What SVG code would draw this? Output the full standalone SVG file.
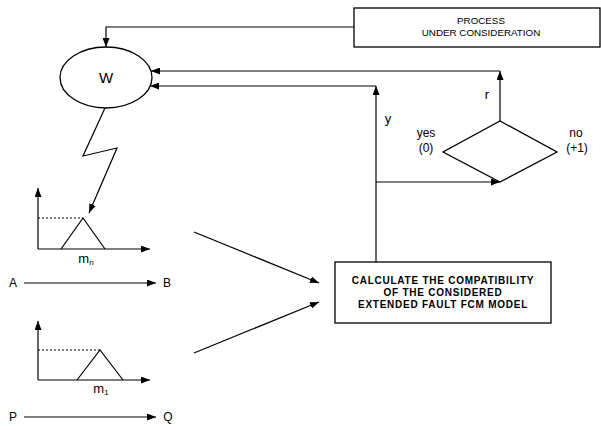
<svg xmlns="http://www.w3.org/2000/svg" width="601" height="430" viewBox="0 0 601 430">
<defs>
<marker id="ah" markerWidth="9" markerHeight="7" refX="9" refY="3.5" orient="auto" markerUnits="userSpaceOnUse">
<path d="M0,0 L9,3.5 L0,7 Z" fill="#000"/>
</marker>
<style>
.ln{fill:none;stroke:#000;stroke-width:1.2}
.bx{fill:#fff;stroke:#000;stroke-width:1.3}
.t{font-family:"Liberation Sans",Arial,sans-serif;fill:#000}
.dot{fill:none;stroke:#000;stroke-width:1;stroke-dasharray:2,2}
.bt{font-size:10px;font-weight:bold;letter-spacing:0.75px}
</style>
</defs>
<rect width="601" height="430" fill="#fff"/>

<g id="process">
<rect class="bx" x="354" y="8" width="246" height="39"/>
<text class="t" x="481" y="24" font-size="9.8" text-anchor="middle">PROCESS</text>
<text class="t" x="481" y="36" font-size="9.8" text-anchor="middle">UNDER CONSIDERATION</text>
</g>

<g id="W">
<ellipse class="bx" cx="106" cy="77.5" rx="46" ry="30.5"/>
<text class="t" x="106" y="83" font-size="15" text-anchor="middle">W</text>
</g>

<g id="decision">
<polygon class="bx" points="500,121 557,152 500,182 443,152"/>
</g>

<g id="calc">
<rect class="bx" x="335" y="262" width="216" height="61"/>
<text class="t bt" x="443" y="284" text-anchor="middle">CALCULATE THE COMPATIBILITY</text>
<text class="t bt" x="443" y="296" text-anchor="middle">OF THE CONSIDERED</text>
<text class="t bt" x="443" y="308" text-anchor="middle">EXTENDED FAULT FCM MODEL</text>
</g>

<g id="chart-n">
<path class="ln" d="M38,249 L38,188" marker-end="url(#ah)"/>
<path class="ln" d="M38,249 L150,249" marker-end="url(#ah)"/>
<path class="dot" d="M38,218 L83,218"/>
<path class="ln" d="M61,249 L83,218 L105,249"/>
<text class="t" x="86" y="263" font-size="13" text-anchor="middle">m<tspan font-size="8" dy="2">n</tspan></text>
</g>

<g id="AB">
<text class="t" x="13" y="287" font-size="12" text-anchor="middle">A</text>
<path class="ln" d="M24,283 L156,283" marker-end="url(#ah)"/>
<text class="t" x="167" y="287" font-size="12" text-anchor="middle">B</text>
</g>

<g id="chart-1">
<path class="ln" d="M38,380 L38,321" marker-end="url(#ah)"/>
<path class="ln" d="M38,380 L150,380" marker-end="url(#ah)"/>
<path class="dot" d="M38,350 L100,350"/>
<path class="ln" d="M77,380 L100,350 L123,380"/>
<text class="t" x="101" y="393" font-size="13" text-anchor="middle">m<tspan font-size="8" dy="2">1</tspan></text>
</g>

<g id="PQ">
<text class="t" x="13" y="421" font-size="12" text-anchor="middle">P</text>
<path class="ln" d="M24,417 L156,417" marker-end="url(#ah)"/>
<text class="t" x="168" y="421" font-size="12" text-anchor="middle">Q</text>
</g>

<g id="labels">
<text class="t" x="388" y="123" font-size="13" text-anchor="middle">y</text>
<text class="t" x="487" y="99" font-size="13" text-anchor="middle">r</text>
<text class="t" x="426" y="137" font-size="12" text-anchor="middle">yes</text>
<text class="t" x="426" y="152" font-size="12" text-anchor="middle">(0)</text>
<text class="t" x="576" y="137" font-size="12" text-anchor="middle">no</text>
<text class="t" x="577" y="152" font-size="12" text-anchor="middle">(+1)</text>
</g>

<g id="connectors">
<path class="ln" d="M354,27 L106,27 L106,47" marker-end="url(#ah)"/>
<path class="ln" d="M500,121 L500,71" marker-end="url(#ah)"/>
<path class="ln" d="M500,71 L151,71" marker-end="url(#ah)"/>
<path class="ln" d="M376,262 L376,86" marker-end="url(#ah)"/>
<path class="ln" d="M376,86 L150,86" marker-end="url(#ah)"/>
<path class="ln" d="M376,182 L500,182" marker-end="url(#ah)"/>
<path class="ln" d="M105,108 L83,156 L117,148 L89,213" marker-end="url(#ah)"/>
<path class="ln" d="M194,232 L319,283" marker-end="url(#ah)"/>
<path class="ln" d="M194,353 L319,302" marker-end="url(#ah)"/>
</g>
</svg>
